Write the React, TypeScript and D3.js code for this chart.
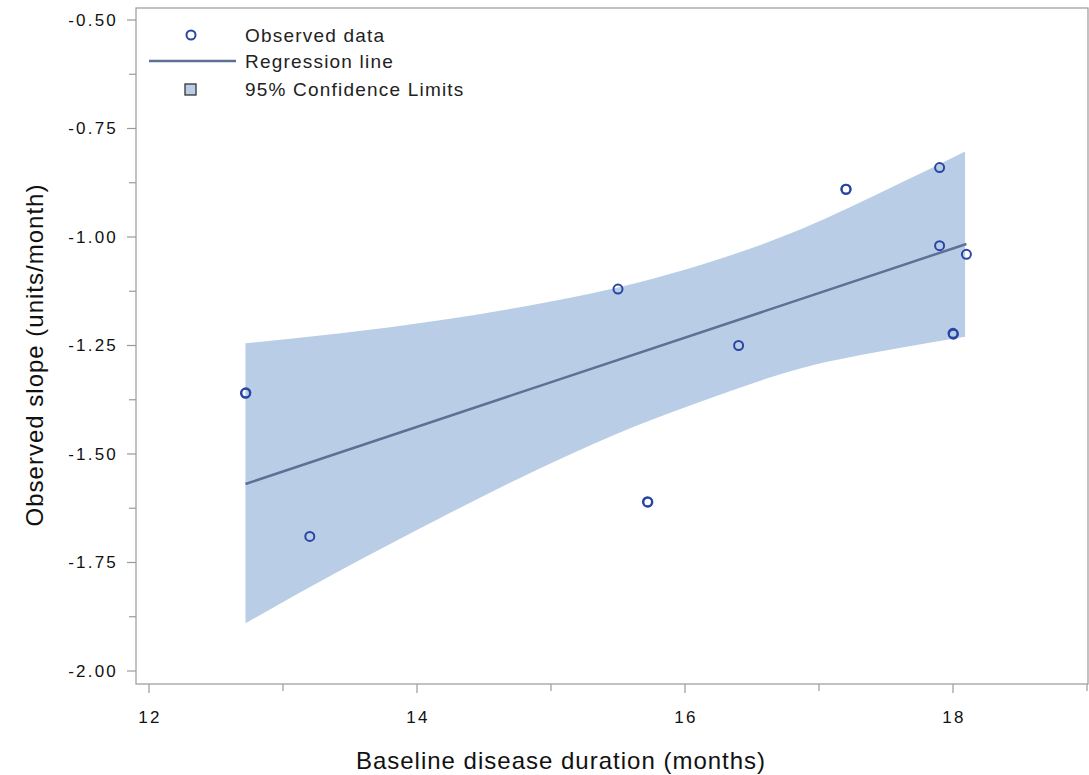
import React from "react";
import * as d3 from "d3";

const obsX = [12.72, 12.723, 13.2, 15.5, 15.72, 15.723, 16.4, 17.2, 17.203, 17.9, 17.9, 18.0, 18.003, 18.1];
const obsY = [-1.36, -1.359, -1.69, -1.12, -1.61, -1.611, -1.25, -0.89, -0.89, -0.84, -1.02, -1.222, -1.224, -1.04];

const regX = [12.72, 18.1];
const regY = [-1.569, -1.016];

const bandX = [12.72, 13.43, 14.17, 14.92, 15.66, 16.11, 16.86, 17.6, 18.09];
const bandUpper = [-1.245, -1.222, -1.192, -1.153, -1.104, -1.065, -0.983, -0.877, -0.803];
const bandLower = [-1.89, -1.768, -1.648, -1.533, -1.432, -1.38, -1.303, -1.256, -1.23];

const xTicks = [12, 14, 16, 18];
const xMinor = [13, 15, 17, 19];
const yTicks = [-0.5, -0.75, -1.0, -1.25, -1.5, -1.75, -2.0];
const yMinor = [-0.625, -0.875, -1.125, -1.375, -1.625, -1.875];

const W = 1089;
const H = 775;
const left = 136, right = 1088, top = 8, bottom = 684;

export default function App() {
  const x = d3.scaleLinear().domain([12, 18]).range([149, 953]);
  const y = d3.scaleLinear().domain([-0.5, -2.0]).range([20, 671]);

  const band = bandX.map((v, i) => ({ x: v, lo: bandLower[i], hi: bandUpper[i] }));
  const area = d3
    .area<{ x: number; lo: number; hi: number }>()
    .x((d) => x(d.x))
    .y0((d) => y(d.lo))
    .y1((d) => y(d.hi))
    .curve(d3.curveMonotoneX)(band) as string;

  const line = d3
    .line<number>()
    .x((d) => x(d))
    .y((_, i) => y(regY[i]))(regX) as string;

  const font = "'Liberation Sans', Arial, Helvetica, sans-serif";
  const axisColor = "#9a9a9a";
  const ptColor = "#2946a3";
  const bandColor = "#b9cee6";
  const lineColor = "#5b7196";

  return (
    <svg
      width={W}
      height={H}
      style={{ position: "absolute", left: 0, top: 0, background: "#fff" }}
      fontFamily={font}
    >
      <path d={area} fill={bandColor} />
      <path d={line} fill="none" stroke={lineColor} strokeWidth={2.5} />
      {obsX.map((v, i) => (
        <circle key={i} cx={x(v)} cy={y(obsY[i])} r={4.5} fill="none" stroke={ptColor} strokeWidth={2} />
      ))}

      {/* frame */}
      <rect x={left} y={top} width={right - left} height={bottom - top} fill="none" stroke={axisColor} strokeWidth={1.2} />

      {/* y ticks */}
      {yTicks.map((t) => (
        <g key={"y" + t}>
          <line x1={127} x2={left} y1={y(t)} y2={y(t)} stroke={axisColor} strokeWidth={1.2} />
          <text x={118} y={y(t)} dy="0.35em" textAnchor="end" fontSize={17} letterSpacing={2.2} fill="#111">
            {d3.format(".2f")(t).replace("−", "-")}
          </text>
        </g>
      ))}
      {yMinor.map((t) => (
        <line key={"ym" + t} x1={129} x2={left} y1={y(t)} y2={y(t)} stroke={axisColor} strokeWidth={1.2} />
      ))}

      {/* x ticks */}
      {xTicks.map((t) => (
        <g key={"x" + t}>
          <line x1={x(t)} x2={x(t)} y1={bottom} y2={bottom + 9} stroke={axisColor} strokeWidth={1.2} />
          <text x={x(t) + 1} y={723} textAnchor="middle" fontSize={17} letterSpacing={2.2} fill="#111">
            {t}
          </text>
        </g>
      ))}
      {xMinor.map((t) => (
        <line key={"xm" + t} x1={x(t)} x2={x(t)} y1={bottom} y2={bottom + 7} stroke={axisColor} strokeWidth={1.2} />
      ))}

      {/* axis titles */}
      <text x={561} y={769} textAnchor="middle" fontSize={24} letterSpacing={1} fill="#111">
        Baseline disease duration (months)
      </text>
      <text
        transform={`translate(43,355) rotate(-90)`}
        textAnchor="middle"
        fontSize={24}
        letterSpacing={1}
        fill="#111"
      >
        Observed slope (units/month)
      </text>

      {/* legend */}
      <circle cx={191} cy={35} r={4.5} fill="none" stroke={ptColor} strokeWidth={2} />
      <text x={245} y={35} dy="0.35em" fontSize={19} letterSpacing={1.2} fill="#222">Observed data</text>
      <line x1={149} x2={236} y1={61} y2={61} stroke={lineColor} strokeWidth={2.5} />
      <text x={245} y={61} dy="0.35em" fontSize={19} letterSpacing={1.2} fill="#222">Regression line</text>
      <rect x={185} y={84} width={11} height={11} fill={bandColor} stroke="#333" strokeWidth={1.3} />
      <text x={245} y={89} dy="0.35em" fontSize={19} letterSpacing={1.2} fill="#222">95% Confidence Limits</text>
    </svg>
  );
}
